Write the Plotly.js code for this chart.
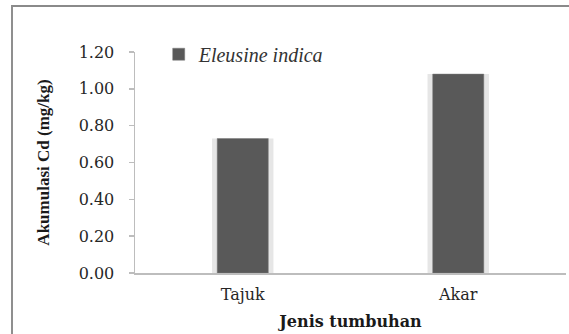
<!DOCTYPE html>
<html>
<head>
<meta charset="utf-8">
<script src="https://cdn.plot.ly/plotly-3.0.1.min.js"></script>
<style>
  html, body { margin: 0; padding: 0; background: #fff; }
  #wrap { position: relative; width: 569px; height: 334px; overflow: hidden; }
  #chart { position: absolute; left: 0; top: 0; width: 569px; height: 334px; }
  #frame { position: absolute; left: 11px; top: 5px; width: 600px; height: 400px;
           border-left: 2px solid #8f8f8f; border-top: 2px solid #8a8a8a; pointer-events: none; }
</style>
</head>
<body>
<div id="wrap">
  <div id="chart"></div>
  <div id="frame"></div>
</div>
<script>
// Data
const categories = ["Tajuk", "Akar"];
const seriesName = "Eleusine indica";
const values = [0.73, 1.08];
const yTickValues = [0, 0.2, 0.4, 0.6, 0.8, 1.0, 1.2];
const yTickLabels = ["0.00", "0.20", "0.40", "0.60", "0.80", "1.00", "1.20"];
const xTitle = "Jenis tumbuhan";
const yTitle = "Akumulasi Cd (mg/kg)";

const barColor = "#595959";
const shadowColor = "#e6e6e6";
const axisColor = "#bdbdbd";
const textColor = "#262626";

const traces = [
  { // soft shadow behind each bar
    type: "bar", x: categories, y: values, width: 0.285,
    marker: { color: shadowColor, line: { width: 0 } },
    showlegend: false, hoverinfo: "skip"
  },
  {
    type: "bar", x: categories, y: values, width: 0.237, name: seriesName,
    marker: { color: barColor, line: { color: "#7a7a7a", width: 0.5 } }
  }
];

const layout = {
  width: 569, height: 334,
  font: { family: "Liberation Serif", color: textColor },
  margin: { l: 135, r: 3, t: 52, b: 61, pad: 0 },
  paper_bgcolor: "#ffffff", plot_bgcolor: "#ffffff",
  barmode: "overlay",
  showlegend: true,
  legend: {
    x: 0.055, xanchor: "left", y: 0.99, yanchor: "middle",
    bgcolor: "rgba(0,0,0,0)", borderwidth: 0, itemwidth: 30,
    font: { family: "Liberation Serif", size: 20, color: "#333333", style: "italic" },
    itemclick: false, itemdoubleclick: false
  },
  xaxis: {
    type: "category", range: [-0.5, 1.5],
    showline: true, linecolor: axisColor, linewidth: 1.5,
    ticks: "", showgrid: false, zeroline: false,
    tickfont: { family: "DejaVu Serif", size: 16, color: textColor },
    ticklabelstandoff: 6,
    title: { text: xTitle, standoff: 13,
             font: { family: "DejaVu Serif", size: 16, color: "#1a1a1a", weight: "bold" } }
  },
  yaxis: {
    range: [0, 1.2], tickvals: yTickValues, ticktext: yTickLabels,
    showline: true, linecolor: axisColor, linewidth: 1.5,
    ticks: "outside", ticklen: 5, tickcolor: axisColor, tickwidth: 1.5,
    showgrid: false, zeroline: false,
    tickfont: { family: "DejaVu Serif", size: 16, color: textColor },
    ticklabelstandoff: 11,
    title: { text: yTitle, standoff: 24,
             font: { family: "Liberation Serif", size: 17, color: "#1a1a1a", weight: "bold" } }
  }
};

Plotly.newPlot("chart", traces, layout, { displayModeBar: false, staticPlot: true });
</script>
</body>
</html>
